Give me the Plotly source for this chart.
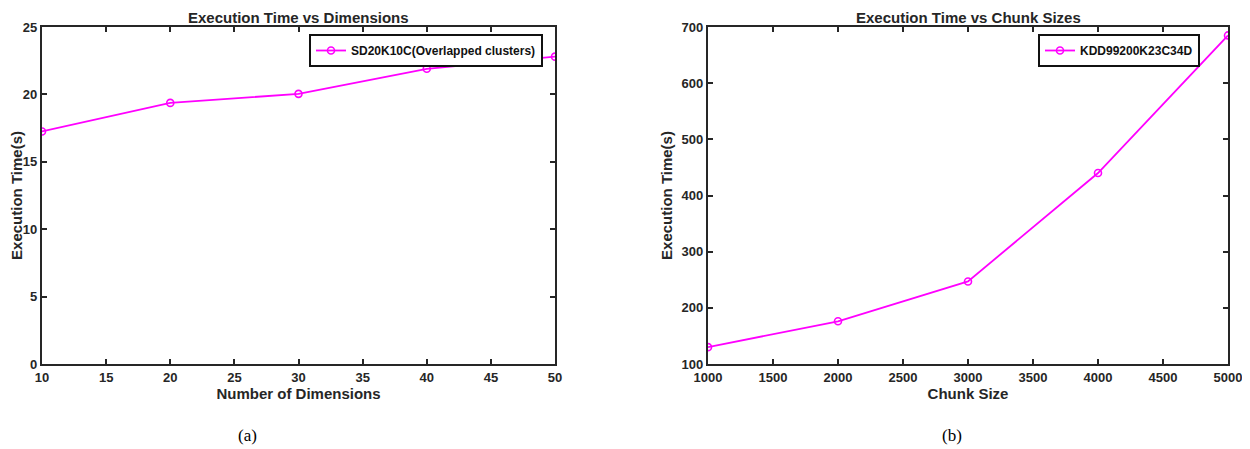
import plotly.graph_objects as go

# Data
dims = [10, 20, 30, 40, 50]
time_dims = [17.25, 19.37, 20.04, 21.9, 22.8]
chunks = [1000, 2000, 3000, 4000, 5000]
time_chunks = [130, 176, 247, 440, 685]

left_ticks = [10, 15, 20, 25, 30, 35, 40, 45, 50]
left_yticks = [0, 5, 10, 15, 20, 25]
right_ticks = [1000, 1500, 2000, 2500, 3000, 3500, 4000, 4500, 5000]
right_yticks = [100, 200, 300, 400, 500, 600, 700]

# page has an 8px body margin; map screen pixels to figure paper coords
OFF = 8
W, H = 1242, 441
def px(X):
    return (X - OFF) / W
def py(Y):
    return 1 - (Y - OFF) / H

MAG = "#FF00FF"
AX = "#262626"
FONT = "Liberation Sans, Arial, sans-serif"

fig = go.Figure()
fig.add_trace(go.Scatter(
    x=dims, y=time_dims, mode="lines+markers", name="SD20K10C(Overlapped clusters)",
    line=dict(color=MAG, width=1.8),
    marker=dict(symbol="circle-open", size=7, color=MAG, line=dict(width=1.6, color=MAG)),
    xaxis="x", yaxis="y", legend="legend"))
fig.add_trace(go.Scatter(
    x=chunks, y=time_chunks, mode="lines+markers", name="KDD99200K23C34D",
    line=dict(color=MAG, width=1.8),
    marker=dict(symbol="circle-open", size=7, color=MAG, line=dict(width=1.6, color=MAG)),
    xaxis="x2", yaxis="y2", legend="legend2"))

ydom = [py(364), py(27)]
dom1 = [px(42), px(555)]
dom2 = [px(708), px(1228)]

def axis(domain, rng, ticks, title, anchor, standoff):
    return dict(
        domain=domain, range=rng, tickvals=ticks, ticktext=[str(t) for t in ticks],
        showgrid=False, zeroline=False, showline=True, linecolor=AX, linewidth=2.2,
        mirror="allticks", ticks="inside", ticklen=5, tickwidth=1.6, tickcolor=AX,
        tickfont=dict(family=FONT, size=13, color=AX, weight="bold"),
        title=dict(text=title, font=dict(family=FONT, size=15, color=AX, weight="bold"),
                   standoff=standoff),
        automargin=False, anchor=anchor)

legend_style = dict(xanchor="right", yanchor="top",
                    bordercolor="#111111", borderwidth=2, bgcolor="white",
                    font=dict(family=FONT, size=12, color="#111111", weight="bold"),
                    itemwidth=30, tracegroupgap=0)

fig.update_layout(
    width=W, height=H,
    margin=dict(l=0, r=0, t=0, b=0),
    paper_bgcolor="white", plot_bgcolor="white",
    xaxis=axis(dom1, [10, 50], left_ticks, "Number of Dimensions", "y", 3),
    yaxis=axis(ydom, [0, 25], left_yticks, "Execution Time(s)", "x", 5),
    xaxis2=axis(dom2, [1000, 5000], right_ticks, "Chunk Size", "y2", 3),
    yaxis2=axis(ydom, [100, 700], right_yticks, "Execution Time(s)", "x2", 5),
    legend=dict(x=px(543), y=py(34), **legend_style),
    legend2=dict(x=px(1200), y=py(34), **legend_style),
    showlegend=True,
)

for txt, xc in [("Execution Time vs Dimensions", (dom1[0] + dom1[1]) / 2),
                ("Execution Time vs Chunk Sizes", (dom2[0] + dom2[1]) / 2)]:
    fig.add_annotation(text=txt, x=xc, y=py(17), xref="paper", yref="paper",
                       showarrow=False, xanchor="center", yanchor="middle", borderpad=0,
                       font=dict(family=FONT, size=15, color=AX, weight="bold"))

for txt, X in [("(a)", 247), ("(b)", 952)]:
    fig.add_annotation(text=txt, x=px(X), y=py(435), xref="paper", yref="paper",
                       showarrow=False, xanchor="center", yanchor="middle",
                       font=dict(family="Liberation Serif, Times New Roman, serif", size=17, color="black"))

fig.write_html("out.html")
